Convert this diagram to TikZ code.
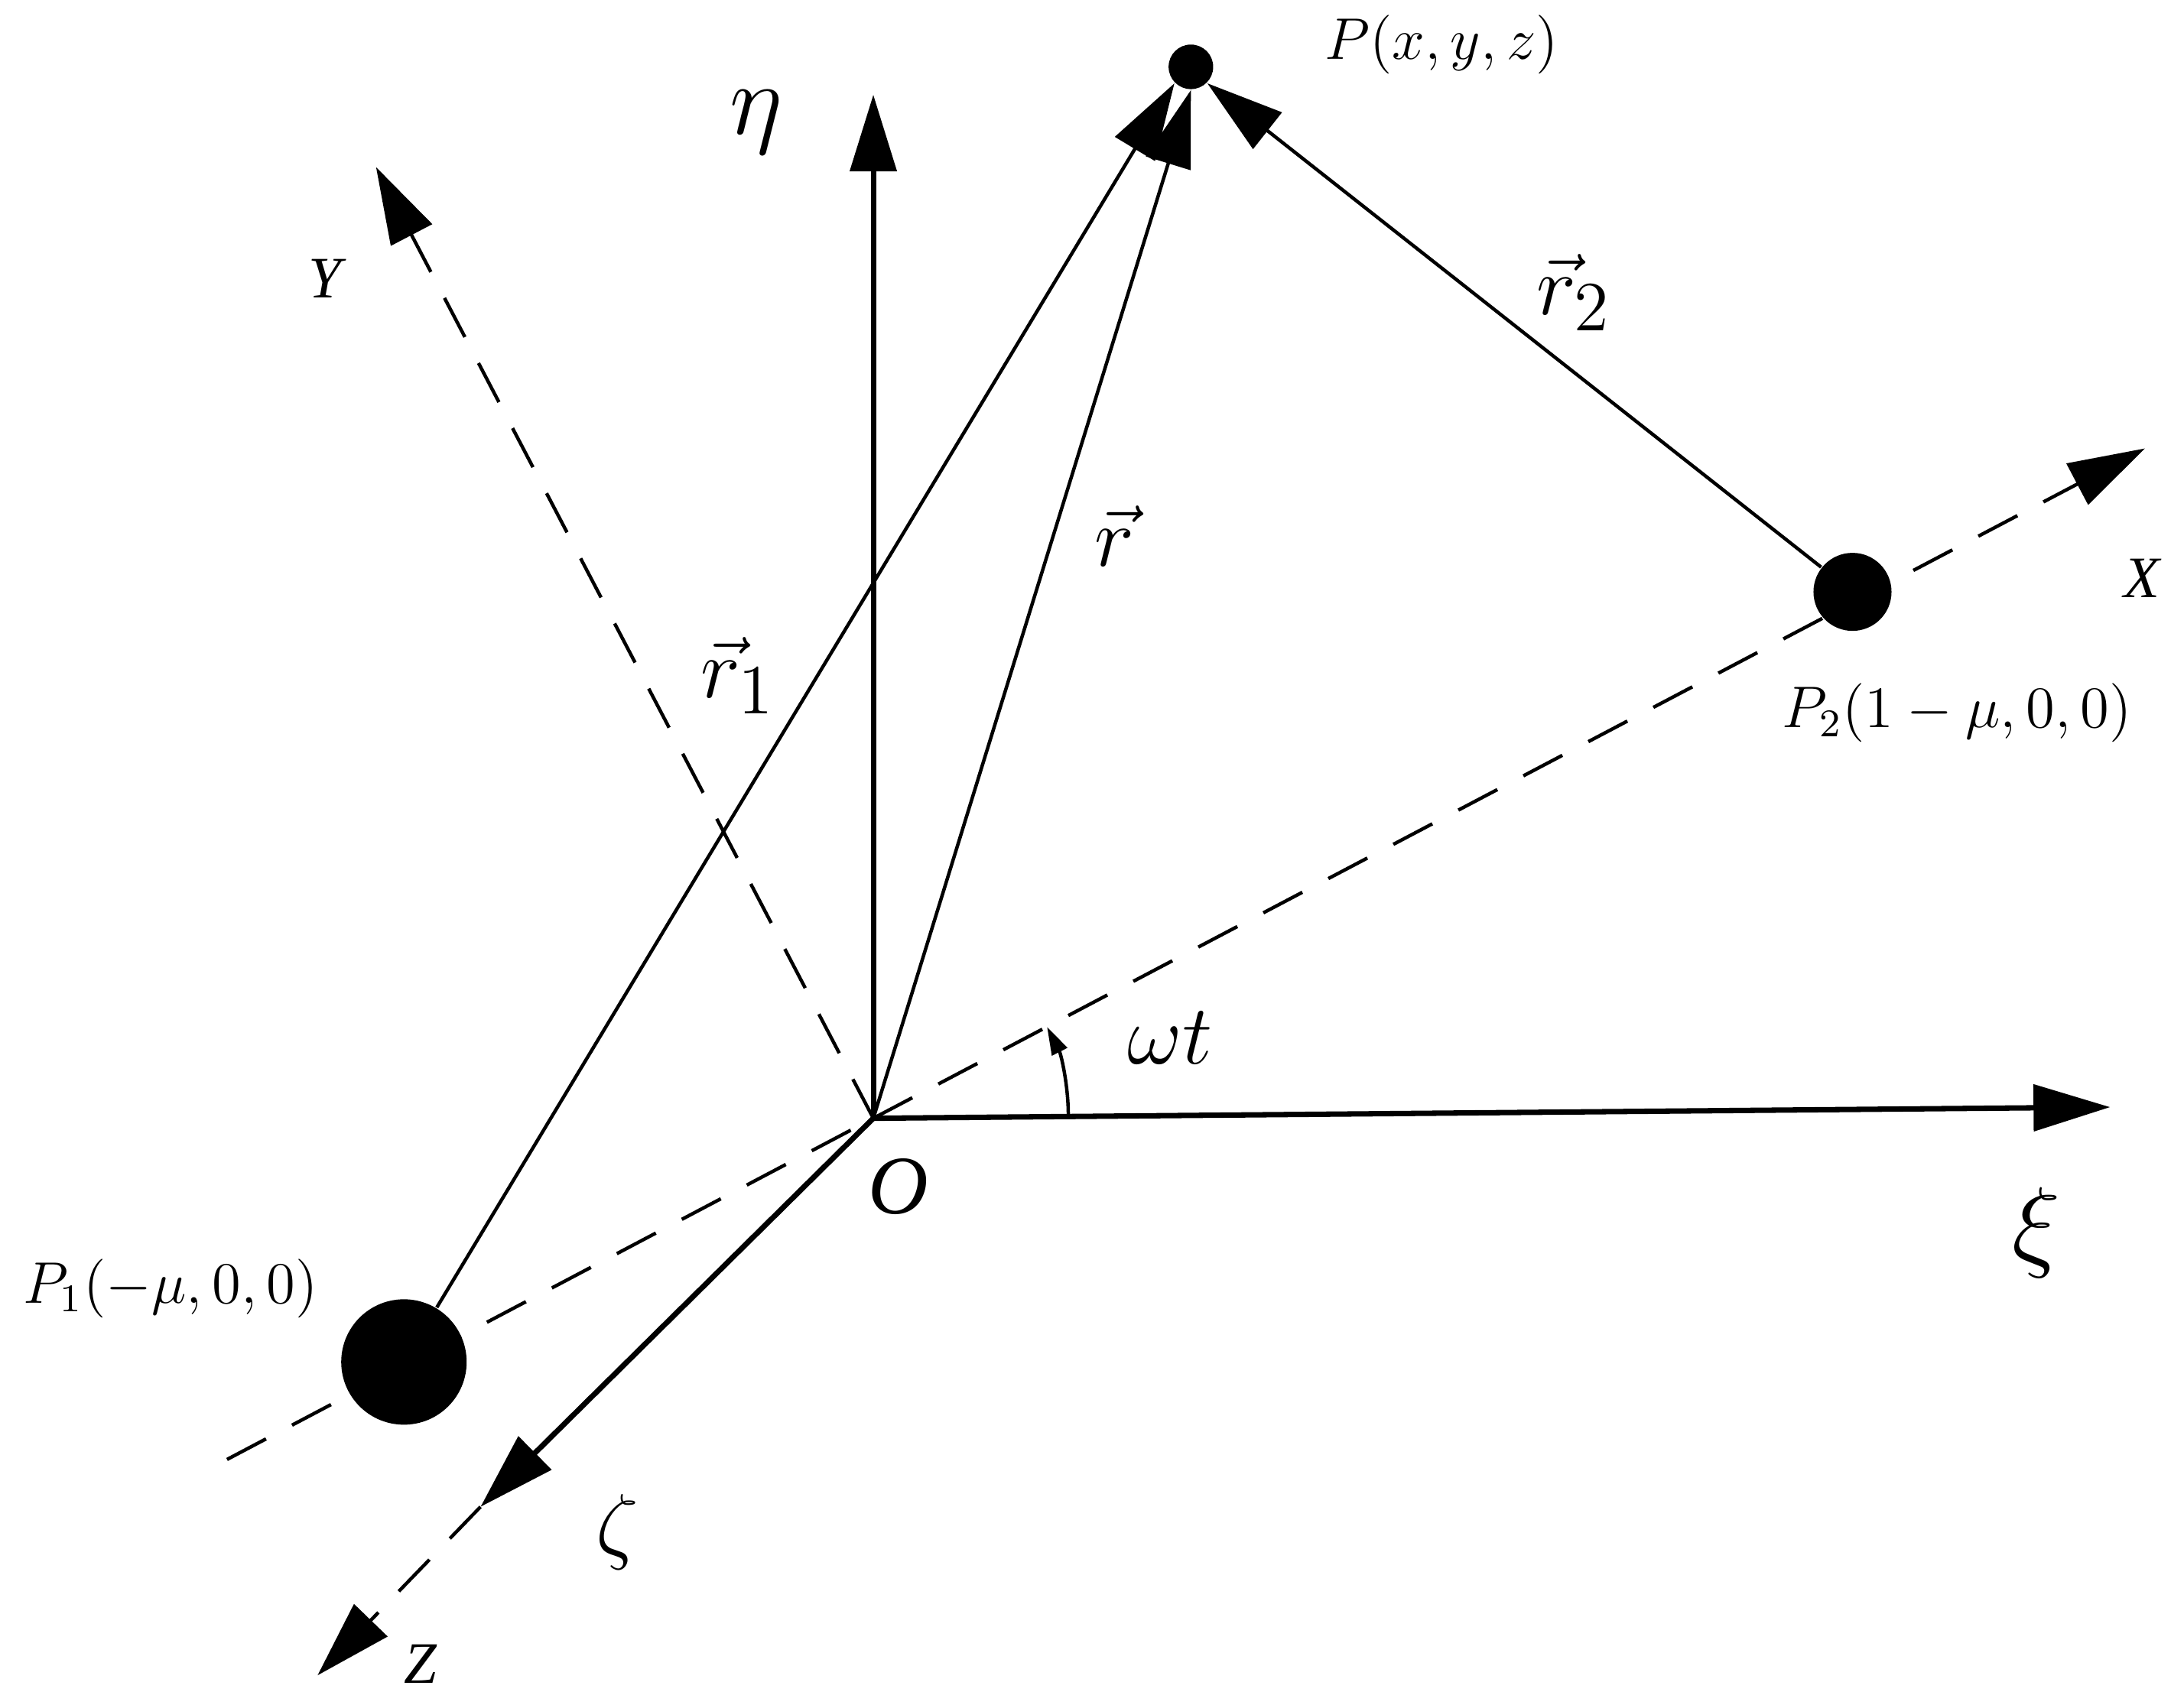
\documentclass[tikz,border=0pt]{standalone}
\usepackage{fontspec}
\setmainfont{Liberation Serif}
\usetikzlibrary{arrows.meta}
\begin{document}
\begin{tikzpicture}[x=0.01cm,y=-0.01cm,
  big/.style={-{Triangle[length=0.55cm,width=0.33cm]}},
  ax/.style={line width=1.1pt},
  vec/.style={line width=0.7pt},
  dsh/.style={line width=0.7pt,dash pattern=on 9pt off 6pt},
  lbl/.style={font=\itshape}]
\useasboundingbox (0,0) rectangle (1568,1224);
\coordinate (O) at (627,803);
\coordinate (etaT) at (627,68);
\coordinate (xiT) at (1515,795);
\coordinate (Xs) at (163,1048);
\coordinate (XT) at (1540,322);
\coordinate (YT) at (270,120);
\coordinate (zeta) at (345,1082);
\coordinate (ZT) at (228,1203);
\node[circle,fill,inner sep=0,minimum size=0.32cm] (P) at (855,48) {};
\node[circle,fill,inner sep=0,minimum size=0.9cm] (P1) at (290,978) {};
\node[circle,fill,inner sep=0,minimum size=0.56cm] (P2) at (1330,425) {};
% dashed axes
\draw[dsh] (Xs) -- (O);
\draw[dsh,big] (O) -- (XT);
\draw[dsh,big] (O) -- (YT);
\draw[dsh,big] (zeta) -- (ZT);
% solid axes
\draw[ax,big] (O) -- (etaT);
\draw[ax,big] (O) -- (xiT);
\draw[ax,big] (O) -- (zeta);
% vectors
\draw[vec,big] (P1) -- (P.south west);
\draw[vec,big] (O) -- (P.south);
\draw[vec,big] (P2) -- (P.south east);
% angle
\draw[vec,-{Triangle[length=0.2cm,width=0.12cm]}] (767,801) arc[start angle=0,end angle=-27,radius=140];
% labels
\node[font=\fontsize{20}{20}\selectfont] (eta) at (543,88) {$\eta$};
\node[font=\fontsize{22}{22}\selectfont] (xi) at (1462,885) {$\xi$};
\node[font=\fontsize{18}{18}\selectfont] (zl) at (443,1100) {$\zeta$};
\node[lbl,font=\itshape\fontsize{12}{12}\selectfont] (Xl) at (1538,415) {X};
\node[lbl,font=\itshape\fontsize{12}{12}\selectfont] (Yl) at (233,200) {Y};
\node[lbl,font=\itshape\fontsize{12}{12}\selectfont] (Zl) at (302,1195) {Z};
\node[lbl,font=\itshape\fontsize{17}{17}\selectfont] (Ol) at (645,852) {O};
\node[font=\fontsize{17}{17}\selectfont] (wt) at (840,745) {$\omega t$};
\node[font=\fontsize{13}{13}\selectfont] (Pl) at (1035,32) {$P(x,y,z)$};
\node[font=\fontsize{12}{12}\selectfont,anchor=west,inner sep=0] (P1l) at (16,925) {$P_1(-\mu,0,0)$};
\node[font=\fontsize{12}{12}\selectfont] (P2l) at (1405,512) {$P_2(1-\mu,0,0)$};
\node[font=\fontsize{19}{19}\selectfont] (r1l) at (530,485) {$\vec{r}_1$};
\node[font=\fontsize{19}{19}\selectfont] (rl) at (800,385) {$\vec{r}$};
\node[font=\fontsize{19}{19}\selectfont] (r2l) at (1130,210) {$\vec{r}_2$};
\end{tikzpicture}
\end{document}
